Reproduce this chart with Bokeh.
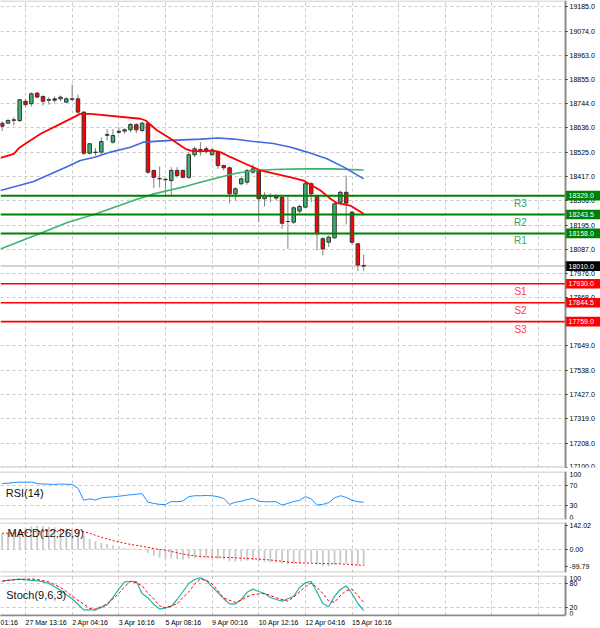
from bokeh.plotting import figure
from bokeh.layouts import column
from bokeh.models import (Range1d, FixedTicker, NumeralTickFormatter, Label, ColumnDataSource,
                          BoxAnnotation)
from bokeh.core.properties import value
from bokeh.embed import file_html
from bokeh.resources import INLINE

FONT = "Liberation Sans"

# ---------------- data ----------------
time_starts = [4, 12, 20, 28, 36, 44, 52, 60]          # bar where each time label starts
time_labels = ["27 Mar 13:16", "2 Apr 04:16", "3 Apr 16:16", "5 Apr 08:16",
               "9 Apr 00:16", "10 Apr 12:16", "12 Apr 04:16", "15 Apr 16:16"]
cut_label = "01:16"          # tail of the label left of the view
cut_label_end = 2.6          # bar where that tail ends
grid_x = [4, 12, 20, 28, 36, 44, 52, 60, 68, 76, 84, 92]
price_ticks = [19185, 19074, 18963, 18855, 18744, 18636, 18525, 18417, 18306, 18195,
               18087, 17976, 17868, 17649, 17538, 17427, 17319, 17208, 17100]

opens = [18657, 18657, 18672, 18669, 18756, 18745, 18793, 18778, 18763, 18767,
         18767, 18752, 18767, 18767, 18707, 18521, 18526, 18526, 18602, 18571,
         18620, 18621, 18627, 18650, 18624, 18655, 18443, 18407, 18403, 18397,
         18443, 18443, 18412, 18514, 18534, 18541, 18514, 18526, 18465, 18455,
         18337, 18383, 18390, 18435, 18443, 18315, 18325, 18330, 18322, 18212,
         18209, 18259, 18277, 18383, 18330, 18134, 18118, 18138, 18299, 18344,
         18254, 18111, 18013]
highs = [18664, 18677, 18684, 18767, 18767, 18796, 18796, 18782, 18775, 18778,
         18782, 18775, 18832, 18787, 18711, 18565, 18544, 18593, 18631, 18631,
         18639, 18634, 18657, 18657, 18663, 18660, 18447, 18461, 18407, 18458,
         18458, 18447, 18524, 18551, 18571, 18551, 18543, 18533, 18470, 18461,
         18367, 18412, 18450, 18470, 18450, 18344, 18340, 18334, 18322, 18330,
         18280, 18289, 18390, 18390, 18330, 18141, 18149, 18299, 18352, 18420,
         18259, 18114, 18063]
lows = [18621, 18654, 18646, 18661, 18729, 18732, 18772, 18737, 18741, 18750,
        18756, 18750, 18756, 18699, 18511, 18515, 18511, 18511, 18579, 18564,
        18609, 18609, 18616, 18612, 18616, 18428, 18363, 18366, 18330, 18330,
        18410, 18407, 18405, 18503, 18511, 18518, 18511, 18450, 18443, 18295,
        18307, 18375, 18379, 18428, 18209, 18280, 18299, 18307, 18179, 18088,
        18201, 18247, 18274, 18299, 18081, 18058, 18096, 18134, 18292, 18198,
        18108, 17987, 17987]
closes = [18643, 18669, 18670, 18763, 18741, 18790, 18775, 18756, 18761, 18761,
          18775, 18767, 18765, 18707, 18521, 18564, 18524, 18574, 18606, 18601,
          18616, 18627, 18651, 18627, 18657, 18435, 18412, 18405, 18401, 18443,
          18420, 18412, 18514, 18541, 18538, 18530, 18536, 18465, 18455, 18337,
          18360, 18405, 18443, 18450, 18315, 18330, 18325, 18318, 18204, 18212,
          18274, 18280, 18383, 18337, 18156, 18088, 18141, 18292, 18344, 18295,
          18118, 18015, 18010]

# moving averages read at bar positions
ma_red_x = [-0.3, 2, 3, 6.6, 10, 13.4, 15.2, 23.7, 24.6, 26.6, 28.9, 31.4, 32.3, 34,
            36.2, 37.4, 39.2, 42, 44.3, 46.9, 49.5, 51.7, 54.6, 56.3, 57.5, 59.7, 62]
ma_red_y = [18500, 18518, 18547, 18609, 18654, 18699, 18699, 18677, 18669, 18624,
            18586, 18541, 18533, 18529, 18533, 18526, 18503, 18470, 18443, 18428,
            18412, 18397, 18352, 18315, 18295, 18284, 18247]
ma_blue_x = [-0.3, 5.4, 11.2, 13.4, 16, 18.6, 22, 24.2, 28.9, 34, 37, 39.7, 43.1,
             46.5, 49.5, 52.3, 55.7, 58.6, 62]
ma_blue_y = [18352, 18393, 18461, 18488, 18504, 18526, 18548, 18571, 18579, 18585,
             18590, 18585, 18574, 18565, 18548, 18526, 18496, 18458, 18405]
ma_green_x = [-0.3, 5.4, 11.2, 16, 22.5, 26, 31.4, 34, 39.7, 43.1, 46.5, 51.2, 56.8, 62]
ma_green_y = [18088, 18146, 18207, 18246, 18307, 18337, 18370, 18390, 18428, 18443,
              18447, 18450, 18450, 18445]

resist_levels = [18329.0, 18243.5, 18158.0]
resist_names = ["R3", "R2", "R1"]
support_levels = [17930.0, 17844.5, 17759.0]
support_names = ["S1", "S2", "S3"]
last_price = 18010.0

rsi = [75, 75.5, 77, 78, 77.5, 78, 75, 74, 73.5, 73, 74, 73.5, 73, 65, 40, 43, 40.5,
       45, 46.5, 47, 48.5, 50, 51.5, 52.5, 54, 36, 33.5, 31.5, 31, 37.5, 37, 38.5,
       47.5, 49.5, 49.5, 50, 49.5, 47.5, 44, 31.5, 36, 38, 41.5, 44, 38, 37, 37, 37,
       30, 33.5, 37.5, 40, 47.5, 43, 30, 31.5, 35, 45, 49.5, 46, 40, 37, 36]
macd_main = [92, 96, 100, 120, 126, 138, 142.02, 138, 134, 130, 128, 126, 122, 110, 80,
             62, 48, 40, 33, 25, 17, 10, 6, 3, 2, -22, -38, -48, -55, -55, -58, -60,
             -55, -52, -50, -50, -50, -55, -58, -70, -72, -70, -66, -63, -72, -74, -76,
             -77, -84, -88, -86, -84, -78, -78, -90, -99.79, -98, -90, -84, -84, -90,
             -96, -99]
macd_signal = [96, 96, 97, 99, 101, 104, 107, 109, 110, 111, 112, 112, 112, 111, 105,
               96, 84, 72, 62, 52, 44, 36, 30, 24, 18, 12, 5, -1, -5, -12, -20, -28,
               -34, -38, -42, -44, -45, -46, -47, -48, -50, -52, -54, -56, -58, -60,
               -63, -67, -71, -75, -78, -80, -81, -82, -83, -84, -85, -85, -86, -88,
               -90, -93, -95]
stoch_main = [86, 88, 90, 91, 89, 88, 87, 84, 80, 72, 63, 52, 42, 28, 14, 14, 14, 20,
              27, 45, 66, 84, 85, 85, 55, 44, 28, 16, 19, 23, 40, 60, 80, 90, 94, 87,
              72, 57, 42, 29, 29, 40, 58, 66, 60, 55, 45, 40, 36, 42, 48, 70, 82, 85,
              58, 30, 22, 48, 65, 74, 55, 30, 12]
stoch_signal = [86, 88, 89, 90, 91, 91, 90, 87, 84, 77, 70, 60, 48, 38, 28, 18, 16, 22,
                29, 42, 55, 72, 85, 82, 74, 56, 41, 24, 19, 24, 29, 45, 59, 78, 91, 88,
                79, 62, 44, 38, 33, 38, 47, 52, 54, 55, 50, 44, 40, 36, 46, 59, 72, 81,
                70, 55, 36, 33, 50, 62, 66, 50, 33]

# ---------------- layout ----------------
W = 600
X0, X1 = -0.29, 102.62
AX = 96.62            # bar position where the price scale sits
XR = Range1d(X0, X1)
PX_PER_BAR = W / (X1 - X0)
GRID_C = "#c8c8c8"
FRAME_C = "#8a8a8a"
LABEL_PX = 7

# approximate glyph advance widths (em) of Liberation Sans, used to left-align time labels
_EM = {" ": 0.278, ":": 0.278, ".": 0.278, "M": 0.833, "a": 0.556, "r": 0.333,
       "A": 0.667, "p": 0.556}


def text_width_px(s, size=LABEL_PX):
    return sum(_EM.get(ch, 0.556) for ch in s) * size


def make_fig(h, yr, top_b, bottom_b, show_x=False):
    p = figure(width=W, height=h, x_range=XR, y_range=yr, output_backend="svg",
               toolbar_location=None, y_axis_location="right",
               x_axis_location="below" if show_x else None,
               min_border_left=0, min_border_right=0,
               min_border_top=top_b, min_border_bottom=bottom_b)
    p.outline_line_color = None
    p.background_fill_color = "white"
    p.border_fill_color = "white"
    ax = p.yaxis[0]
    ax.fixed_location = AX
    ax.axis_line_color = FRAME_C
    ax.axis_line_width = 1.5
    ax.major_tick_out = 2
    ax.major_tick_in = 0
    ax.minor_tick_out = 0
    ax.minor_tick_in = 0
    ax.major_tick_line_color = "#000000"
    ax.major_label_standoff = 2
    ax.major_label_text_font = FONT
    ax.major_label_text_font_size = f"{LABEL_PX}px"
    ax.major_label_text_color = "#000000"
    p.xgrid.ticker = FixedTicker(ticks=grid_x)
    p.xgrid.grid_line_color = GRID_C
    p.xgrid.grid_line_dash = "3 3"
    p.ygrid.grid_line_color = GRID_C
    p.ygrid.grid_line_dash = "3 3"
    # white scale area and gray panel border
    p.add_layout(BoxAnnotation(left=AX, fill_color="white", fill_alpha=1.0, line_color=None,
                               level="underlay"))
    p.add_layout(BoxAnnotation(left=X0 - 5, right=AX, fill_alpha=0.0, line_color=FRAME_C,
                               line_width=3, level="overlay"))
    return p


def edge_label(p, y, text, baseline):
    p.add_layout(Label(x=AX, y=y, x_offset=4, text=text, text_align="left", text_baseline=baseline,
                       text_font=FONT, text_font_size=f"{LABEL_PX}px", text_color="#000000"))


# ---- main price panel ----
PMAX = 19212.2
PPP = 4.526          # price per pixel of the main panel
PMIN = PMAX - 467 * PPP
main = make_fig(468, Range1d(PMIN, PMAX), 0, 1)
main.yaxis.ticker = FixedTicker(ticks=price_ticks)
main.yaxis.formatter = NumeralTickFormatter(format="0.0")
main.ygrid.ticker = FixedTicker(ticks=price_ticks)

n = len(closes)
xs = list(range(n))
body_top = [max(o, c) for o, c in zip(opens, closes)]
body_bot = [min(o, c) for o, c in zip(opens, closes)]
colors = ["#3cb371" if c > o else ("#ff0000" if c < o else "#333333")
          for o, c in zip(opens, closes)]
src = ColumnDataSource(dict(x=xs, top=body_top, bottom=body_bot, high=highs, low=lows, color=colors))

main.segment(x0=X0, y0=last_price, x1=AX, y1=last_price, line_color="#d3d3d3", line_width=2)
main.segment(x0="x", y0="low", x1="x", y1="high", source=src, line_color="#808080", line_width=1)
main.vbar(x="x", width=0.6, top="top", bottom="bottom", source=src, fill_color="color",
          line_color="#333333", line_width=1)

main.line(ma_green_x, ma_green_y, line_color="#3cb371", line_width=1.6)
main.line(ma_blue_x, ma_blue_y, line_color="#4169e1", line_width=1.6)
main.line(ma_red_x, ma_red_y, line_color="#ff0000", line_width=1.8)

TAG_H = 4.8 * PPP    # half height of a price tag
levels = resist_levels + support_levels
names = resist_names + support_names
line_cols = ["#008000"] * 3 + ["#ff0000"] * 3
widths = [2] * 3 + [1.6] * 3
name_cols = ["#3aa35a"] * 3 + ["#ff4040"] * 3
main.segment(x0=X0, y0=levels, x1=AX, y1=levels, line_color=line_cols, line_width=widths)
main.text(x=88.9, y=[l - 7.5 * PPP for l in levels], text=names, text_align="center",
          text_baseline="middle", text_color=name_cols, text_font=value(FONT),
          text_font_size="10px")

tag_vals = levels + [last_price]
tag_cols = line_cols + ["#000000"]
main.quad(left=AX, right=X1, top=[v + TAG_H for v in tag_vals], bottom=[v - TAG_H for v in tag_vals],
          fill_color=tag_cols, line_color=None, level="annotation")
main.text(x=AX, y=tag_vals, text=[f"{v:.1f}" for v in tag_vals], x_offset=3,
          text_align="left", text_baseline="middle", text_color="white",
          text_font=value(FONT), text_font_size=f"{LABEL_PX}px", level="overlay")

# ---- RSI panel ----
prsi = make_fig(52, Range1d(0, 100), 3, 1)
prsi.yaxis.ticker = FixedTicker(ticks=[30, 70])
prsi.ygrid.ticker = FixedTicker(ticks=[30, 70])
prsi.line(xs, rsi, line_color="#1e90ff", line_width=1)
prsi.add_layout(Label(x=0.6, y=56, text="RSI(14)", text_align="left", text_baseline="middle",
                      text_font=FONT, text_font_size="11px", text_color="#111111"))
edge_label(prsi, 100, "100", "top")
edge_label(prsi, 0, "0", "bottom")

# ---- MACD panel ----
pmacd = make_fig(53, Range1d(-137.2, 159.8), 2, 1)
pmacd.yaxis.ticker = FixedTicker(ticks=[142.02, 0, -99.79])
pmacd.yaxis.formatter = NumeralTickFormatter(format="0.00")
pmacd.ygrid.ticker = FixedTicker(ticks=[0])
pmacd.vbar(x=xs, top=macd_main, bottom=0, width=0.3, fill_color="#c8c8c8", line_color=None)
pmacd.line(xs, macd_signal, line_color="#ff0000", line_width=1, line_dash="2 2")
pmacd.add_layout(Label(x=0.9, y=100, text="MACD(12;26,9)", text_align="left", text_baseline="middle",
                       text_font=FONT, text_font_size="11px", text_color="#111111"))

# ---- Stochastic panel ----
pst = make_fig(55, Range1d(0, 100), 2, 12, show_x=True)
pst.yaxis.ticker = FixedTicker(ticks=[20, 80])
pst.ygrid.ticker = FixedTicker(ticks=[20, 80])
pst.line(xs, stoch_main, line_color="#20b2aa", line_width=1.2)
pst.line(xs, stoch_signal, line_color="#ff0000", line_width=1, line_dash="3 2")
pst.add_layout(Label(x=0.7, y=51, text="Stoch(9,6,3)", text_align="left", text_baseline="middle",
                     text_font=FONT, text_font_size="11px", text_color="#111111"))
edge_label(pst, 100, "100", "top")
edge_label(pst, 0, "0", "bottom")

# Bokeh centres axis labels on their ticks; place each tick at the middle of its
# label so that the text starts at its bar, as the reference does.
centers = [round(s + text_width_px(t) / 2 / PX_PER_BAR, 3) for s, t in zip(time_starts, time_labels)]
cut_center = round(cut_label_end - text_width_px(cut_label) / 2 / PX_PER_BAR, 3)
all_ticks = [cut_center] + centers
all_labels = [cut_label] + time_labels
xa = pst.xaxis[0]
xa.ticker = FixedTicker(ticks=all_ticks)
xa.major_label_overrides = {t: s for t, s in zip(all_ticks, all_labels)}
xa.major_label_text_font = FONT
xa.major_label_text_font_size = f"{LABEL_PX}px"
xa.major_label_text_color = "#000000"
xa.major_label_standoff = 3
xa.major_tick_out = 0
xa.major_tick_in = 0
xa.minor_tick_out = 0
xa.minor_tick_in = 0
xa.axis_line_color = FRAME_C
xa.axis_line_width = 1.5
xa.bounds = (X0, AX)

layout = column(main, prsi, pmacd, pst)
open("out.html", "w").write(file_html(layout, INLINE))
